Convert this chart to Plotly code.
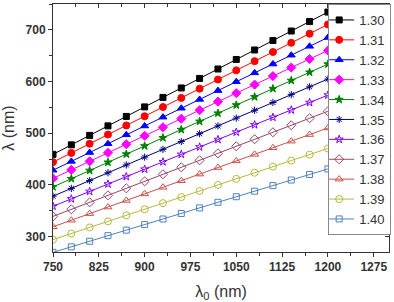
import plotly.graph_objects as go

lambda0 = [750, 780, 810, 840, 870, 900, 930, 960, 990, 1020, 1050, 1080, 1110, 1140, 1170, 1200]

n_labels = ["1.30", "1.31", "1.32", "1.33", "1.34", "1.35", "1.36", "1.37", "1.38", "1.39", "1.40"]

lam_130 = [459.0, 477.4, 495.7, 514.1, 532.4, 550.8, 569.2, 587.5, 605.9, 624.2, 642.6, 661.0, 679.3, 697.7, 716.0, 734.4]
lam_131 = [444.0, 461.8, 479.5, 497.3, 515.0, 532.8, 550.6, 568.3, 586.1, 603.8, 621.6, 639.4, 657.1, 674.9, 692.6, 710.4]
lam_132 = [428.3, 445.4, 462.5, 479.6, 496.8, 513.9, 531.0, 548.2, 565.3, 582.4, 599.6, 616.7, 633.8, 650.9, 668.1, 685.2]
lam_133 = [412.5, 429.0, 445.5, 462.0, 478.5, 495.0, 511.5, 528.0, 544.5, 561.0, 577.5, 594.0, 610.5, 627.0, 643.5, 660.0]
lam_134 = [396.0, 411.8, 427.7, 443.5, 459.4, 475.2, 491.0, 506.9, 522.7, 538.6, 554.4, 570.2, 586.1, 601.9, 617.8, 633.6]
lam_135 = [378.0, 393.1, 408.2, 423.4, 438.5, 453.6, 468.7, 483.8, 499.0, 514.1, 529.2, 544.3, 559.4, 574.6, 589.7, 604.8]
lam_136 = [358.5, 372.8, 387.2, 401.5, 415.9, 430.2, 444.5, 458.9, 473.2, 487.6, 501.9, 516.2, 530.6, 544.9, 559.3, 573.6]
lam_137 = [339.0, 352.6, 366.1, 379.7, 393.2, 406.8, 420.4, 433.9, 447.5, 461.0, 474.6, 488.2, 501.7, 515.3, 528.8, 542.4]
lam_138 = [318.8, 331.5, 344.3, 357.0, 369.8, 382.5, 395.3, 408.0, 420.8, 433.5, 446.3, 459.0, 471.8, 484.5, 497.3, 510.0]
lam_139 = [294.0, 305.8, 317.5, 329.3, 341.0, 352.8, 364.6, 376.3, 388.1, 399.8, 411.6, 423.4, 435.1, 446.9, 458.6, 470.4]
lam_140 = [269.3, 280.0, 290.8, 301.6, 312.3, 323.1, 333.9, 344.6, 355.4, 366.2, 377.0, 387.7, 398.5, 409.3, 420.0, 430.8]

series = [lam_130, lam_131, lam_132, lam_133, lam_134, lam_135, lam_136, lam_137, lam_138, lam_139, lam_140]
colors = ["#000000", "#ff0000", "#0000ff", "#ff00ff", "#008000", "#000080",
          "#8000ff", "#994466", "#c8504a", "#b8b840", "#4f81bd"]
symbols = ["square", "circle", "triangle-up", "diamond", "star", "asterisk-open",
           "star-open", "diamond-open", "triangle-up-open", "circle-open", "square-open"]
sizes = [6, 7, 7, 7, 6, 6, 6, 7, 7, 7, 6]

fig = go.Figure()
for lab, ys, c, s, sz in zip(n_labels, series, colors, symbols, sizes):
    fig.add_trace(go.Scatter(
        x=lambda0, y=ys, name=lab, mode="lines+markers",
        line=dict(color=c, width=1),
        marker=dict(symbol=s, size=sz, color=c, line=dict(color=c, width=1)),
    ))

# helper trace for mirrored (top/right) axes with inside ticks
fig.add_trace(go.Scatter(x=[None], y=[None], xaxis="x2", yaxis="y2",
                         showlegend=False, hoverinfo="skip"))

axcol = "#333333"
tickfont = dict(family="Liberation Sans, Arial", size=12, color="#333333", weight="bold")

fig.update_layout(
    width=394, height=302,
    margin=dict(l=53, r=3, t=4, b=50),
    paper_bgcolor="white", plot_bgcolor="white",
    showlegend=True,
    xaxis=dict(
        range=[750, 1300], tickvals=[750, 825, 900, 975, 1050, 1125, 1200, 1275],
        ticks="outside", ticklen=4, tickcolor=axcol, showline=True, linecolor=axcol,
        linewidth=1, showgrid=False, zeroline=False, tickfont=tickfont,
        minor=dict(dtick=37.5, tick0=750, ticks="outside", ticklen=3, tickcolor=axcol),
        title=dict(text="λ<sub>0</sub> (nm)", standoff=13,
                   font=dict(family="Liberation Sans, Arial", size=16, color="#333333")),
    ),
    yaxis=dict(
        range=[270, 750], tickvals=[300, 400, 500, 600, 700],
        ticks="outside", ticklen=4, tickcolor=axcol, showline=True, linecolor=axcol,
        linewidth=1, showgrid=False, zeroline=False, tickfont=tickfont,
        minor=dict(dtick=50, tick0=300, ticks="outside", ticklen=3, tickcolor=axcol),
        title=dict(text="λ (nm)", standoff=8,
                   font=dict(family="Liberation Sans, Arial", size=16, color="#333333")),
    ),
    xaxis2=dict(
        overlaying="x", side="top", anchor="y2", range=[750, 1300],
        tickvals=[750, 825, 900, 975, 1050, 1125, 1200, 1275],
        ticks="inside", ticklen=4, tickcolor=axcol, showline=True, linecolor=axcol,
        showticklabels=False, showgrid=False, zeroline=False,
        minor=dict(dtick=37.5, tick0=750, ticks="inside", ticklen=3, tickcolor=axcol),
    ),
    yaxis2=dict(
        overlaying="y", side="right", anchor="x2", range=[270, 750],
        tickvals=[300, 400, 500, 600, 700],
        ticks="inside", ticklen=4, tickcolor=axcol, showline=True, linecolor=axcol,
        showticklabels=False, showgrid=False, zeroline=False,
        minor=dict(dtick=50, tick0=300, ticks="inside", ticklen=3, tickcolor=axcol),
    ),
    legend=dict(
        x=0.819, y=1, xanchor="left", yanchor="top",
        bgcolor="white", bordercolor="#888888", borderwidth=1,
        font=dict(family="Liberation Sans, Arial", size=13, color="#333333"),
        itemwidth=30, tracegroupgap=0, indentation=-10,
    ),
)

fig.write_html("out.html")
